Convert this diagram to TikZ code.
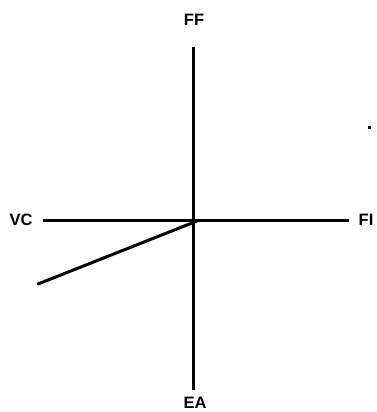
\documentclass[tikz,border=0pt]{standalone}
\usepackage{fontspec}
\setmainfont{Liberation Sans}
\begin{document}
\begin{tikzpicture}[x=1pt,y=-1pt,
  lbl/.style={font=\fontsize{16.5}{18}\selectfont\bfseries, inner sep=0pt},
  axis/.style={line width=3pt}]
\useasboundingbox (0,0) rectangle (376,412);
\coordinate (O) at (193,221);
\coordinate (top) at (193,47);
\coordinate (bot) at (193,390);
\coordinate (left) at (43,220);
\coordinate (right) at (349,220);
\coordinate (diagS) at (38,284);
\coordinate (diagE) at (197,221);
\node[lbl] (FF) at (194,20) {FF};
\node[lbl] (EA) at (195,403) {EA};
\node[lbl] (VC) at (21,219.5) {VC};
\node[lbl] (FI) at (366,219.5) {FI};
\draw[axis] (top) -- (bot);
\draw[axis] (left) -- (right);
\draw[axis, line cap=round] (diagS) -- (diagE);
\fill (368,126) rectangle (371,129);
\end{tikzpicture}
\end{document}
